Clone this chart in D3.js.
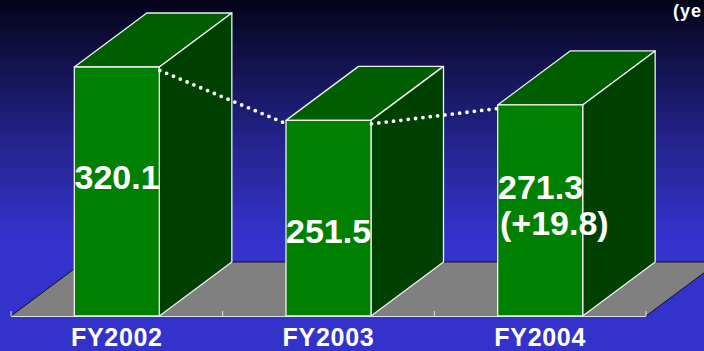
<!DOCTYPE html>
<html>
<head>
<meta charset="utf-8">
<script src="https://cdn.jsdelivr.net/npm/d3@7"></script>
<style>
html,body{margin:0;padding:0;background:#3333cc}
svg{display:block}
text{font-family:"Liberation Sans",Arial,sans-serif;font-weight:bold;fill:#fff}
</style>
</head>
<body>
<svg id="chart" width="704" height="351"></svg>
<script>
const years = ["FY2002", "FY2003", "FY2004"];
const sales = [320.1, 251.5, 271.3];
const valueLabels = [["320.1"], ["251.5"], ["271.3", "(+19.8)"]];
const unitLabel = "(ye";

const svg = d3.select("#chart");
const W = 704, H = 351;
const depthX = 72.5, depthY = -54;

const x = d3.scaleBand().domain(years).range([11, 646]).paddingInner(0).paddingOuter(0);
const barW = 85;
const barX = d => x(d) + (x.bandwidth() - barW) / 2;
const y = d3.scaleLinear().domain([0, 320.1]).range([316, 67]);
const line = d3.line();

// Backdrop: night-blue fading down to royal blue
const grad = svg.append("defs").append("linearGradient")
  .attr("id", "sky").attr("x1", 0).attr("x2", 0).attr("y1", 0).attr("y2", 1);
grad.selectAll("stop")
  .data([[0, "#03031a"], [0.12, "#0e0e3c"], [0.4, "#23238c"], [0.68, "#3333cc"], [1, "#3333cc"]])
  .join("stop")
  .attr("offset", d => d[0]).attr("stop-color", d => d[1]);
svg.append("rect").attr("width", W).attr("height", H).attr("fill", "url(#sky)");

// Chart floor in oblique projection
const x0 = x.range()[0], x1 = x.range()[1], yBase = y(0);
const floor = [[x0, yBase], [x0 + depthX, yBase + depthY], [x1 + depthX, yBase + depthY], [x1, yBase]];
svg.append("path").attr("d", line(floor) + "Z").attr("fill", "#808080");
svg.append("path").attr("d", line(floor))
  .attr("fill", "none").attr("stroke", "#111122").attr("stroke-width", 1);

// Category axis line with tick marks rising from it
const tickXs = [...years.map(d => x(d)), x1];
svg.append("line").attr("x1", x0).attr("x2", x1).attr("y1", yBase + 0.5).attr("y2", yBase + 0.5)
  .attr("stroke", "#e0e0e0").attr("stroke-width", 1.2);
svg.selectAll(".tick").data(tickXs).join("line").attr("class", "tick")
  .attr("x1", d => d).attr("x2", d => d).attr("y1", yBase).attr("y2", yBase - 5)
  .attr("stroke", "#e0e0e0").attr("stroke-width", 1);

// Boxes: top, side, then front
const bars = svg.selectAll(".bar").data(years.map((d, i) => ({ year: d, value: sales[i] })))
  .join("g").attr("class", "bar");
const edge = { stroke: "#f0f0f0", "stroke-width": 1.3, "stroke-linejoin": "round" };
function styled(sel, fill) {
  sel.attr("fill", fill);
  Object.entries(edge).forEach(([k, v]) => sel.attr(k, v));
}
bars.append("path").call(styled, "#005e00").attr("d", d => {
  const a = barX(d.year), b = a + barW, t = y(d.value);
  return line([[a, t], [a + depthX, t + depthY], [b + depthX, t + depthY], [b, t]]) + "Z";
});
bars.append("path").call(styled, "#004000").attr("d", d => {
  const b = barX(d.year) + barW, t = y(d.value);
  return line([[b, t], [b + depthX, t + depthY], [b + depthX, yBase + depthY], [b, yBase]]) + "Z";
});
bars.append("path").call(styled, "#008000").attr("d", d => {
  const a = barX(d.year), b = a + barW, t = y(d.value);
  return line([[a, t], [b, t], [b, yBase], [a, yBase]]) + "Z";
});

// Dotted connectors: right corner of one box to the left corner of the next
svg.selectAll(".trend").data(d3.pairs(years.map((d, i) => ({ year: d, value: sales[i] }))))
  .join("path").attr("class", "trend")
  .attr("d", ([p, q]) => line([
    [barX(p.year) + barW + 0.5, y(p.value) + 3.5],
    [barX(q.year) + 0.5, y(q.value) + 3.5]
  ]))
  .attr("fill", "none").attr("stroke", "#fff").attr("stroke-width", 3.8)
  .attr("stroke-linecap", "round").attr("stroke-dasharray", "0 7.4");

// Value labels on the front faces
const labelPos = [[74.5, 189], [286, 243], [498, 199]];
svg.selectAll(".val").data(valueLabels).join("text").attr("class", "val")
  .attr("font-size", 34)
  .each(function (lines, i) {
    d3.select(this).selectAll("tspan").data(lines).join("tspan")
      .attr("x", (d, j) => labelPos[i][0] + j * 2)
      .attr("y", (d, j) => labelPos[i][1] + j * 36)
      .text(d => d);
  });

// Category names under the axis
svg.selectAll(".cat").data(years).join("text").attr("class", "cat")
  .attr("x", d => x(d) + x.bandwidth() / 2).attr("y", 345.6)
  .attr("text-anchor", "middle").attr("font-size", 25).attr("letter-spacing", 0.7)
  .text(d => d);

// Unit note in the top corner
svg.append("text").attr("x", 673).attr("y", 16.6).attr("font-size", 18).attr("letter-spacing", 1).text(unitLabel);
</script>
</body>
</html>
